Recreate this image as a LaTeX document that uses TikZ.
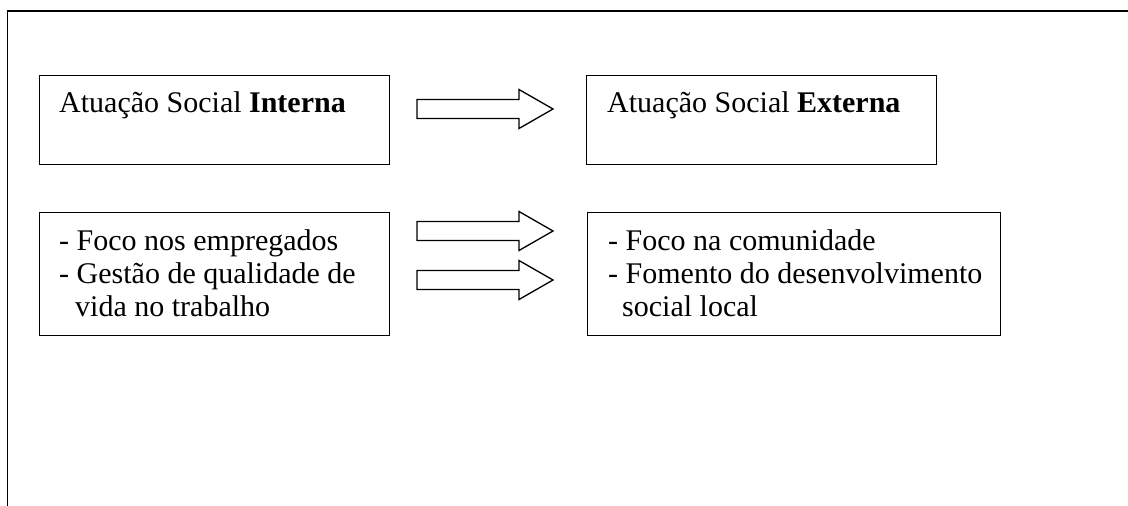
\documentclass[tikz,border=0pt]{standalone}
\usepackage{fontspec}
\setmainfont{Liberation Serif}
\begin{document}
\begin{tikzpicture}[x=1pt,y=-1pt,
  panel/.style={draw=black,line width=1.3pt,inner sep=0pt,anchor=north west},
  txt/.style={anchor=base west,inner sep=0pt,font=\fontsize{30}{33}\selectfont},
  blockarr/.style={draw=black,line width=1.3pt,fill=white,line join=miter}]
\useasboundingbox (0,0) rectangle (1128,506);
% outer frame: top and left edges only
\draw[line width=1.6pt] (7.5,506) -- (7.5,11) -- (1128,11);

% top row
\node[panel,minimum width=350pt,minimum height=89pt] (intA) at (39,75) {};
\node[panel,minimum width=350pt,minimum height=89pt] (extA) at (586,75) {};
\node[txt] (intAt) at (59,112) {Atuação Social \textbf{Interna}};
\node[txt] (extAt) at (607,112) {Atuação Social \textbf{Externa}};

% bottom row
\node[panel,minimum width=350pt,minimum height=123pt] (intB) at (39,212) {};
\node[panel,minimum width=413pt,minimum height=123pt] (extB) at (587,212) {};
\node[txt] (intB1) at (59,250) {- Foco nos empregados};
\node[txt] (intB2) at (59,283) {- Gestão de qualidade de};
\node[txt] (intB3) at (75,316) {vida no trabalho};
\node[txt] (extB1) at (608,250) {- Foco na comunidade};
\node[txt] (extB2) at (608,283) {- Fomento do desenvolvimento};
\node[txt] (extB3) at (622,316) {social local};

% block arrows between the columns
\foreach \yc in {109,231,280}{
  \draw[blockarr] (417,\yc-9.5) -- (519,\yc-9.5) -- (519,\yc-19.5) -- (553,\yc)
    -- (519,\yc+19.5) -- (519,\yc+9.5) -- (417,\yc+9.5) -- cycle;
}
\end{tikzpicture}
\end{document}
